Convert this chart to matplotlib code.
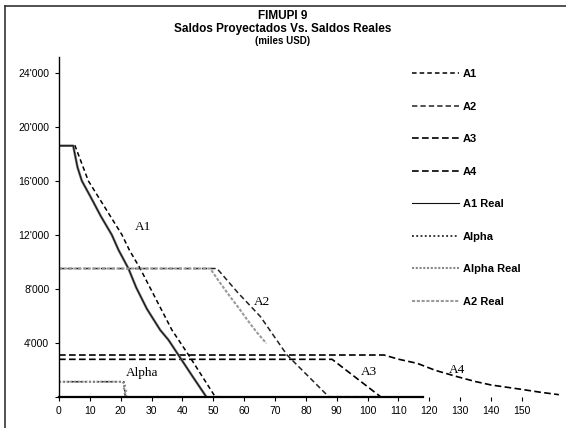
import matplotlib.pyplot as plt
from matplotlib.lines import Line2D
from matplotlib.ticker import FuncFormatter

# --- data (months vs. balance in thousand USD) ---
a1_x = [0, 5.2, 9.5, 20.4, 22.8, 26.3, 36.6, 42, 50.6, 52]
a1_y = [18600, 18600, 16000, 12000, 10870, 9500, 4940, 3090, 0, 0]

a1r_x = [0, 4.6, 6.0, 7.4, 10.5, 13.5, 17.1, 19.3, 22.5, 25.0, 28.5, 32.8, 35.5, 38.7, 43.0, 47.7]
a1r_y = [18600, 18600, 17000, 16000, 14700, 13400, 12000, 10870, 9500, 8100, 6500, 4940, 4200, 3090, 1600, 0]

a2_x = [0, 51.2, 58.0, 65.3, 73.9, 87.4, 104]
a2_y = [9500, 9500, 7700, 5930, 3090, 0, 0]

a2r_x = [0, 49.0, 52.0, 55.5, 58.5, 61.0, 64.0, 67.2]
a2r_y = [9500, 9500, 8500, 7400, 6500, 5700, 4800, 3950]

a3_x = [0, 88.5, 104.2]
a3_y = [2770, 2770, 0]

a4_x = [0, 105.3, 110.0, 116.1, 122.0, 129.1, 135.0, 140.0, 149.7, 156.0, 162.0]
a4_y = [3090, 3090, 2780, 2470, 1950, 1480, 1120, 870, 550, 330, 150]

alpha_x = [0, 21.0, 21.5]
alpha_y = [1110, 1110, 0]

alphar_x = [0, 20.6, 21.4, 20.8, 21.8, 21.0, 22.0, 21.4]
alphar_y = [1110, 1110, 850, 650, 450, 300, 150, 0]

x_ticks = list(range(0, 151, 10))
y_ticks = [0, 4000, 8000, 12000, 16000, 20000, 24000]

curve_labels = ['A1', 'A2', 'A3', 'A4', 'Alpha']
curve_label_x = [27.4, 65.8, 100.4, 129.1, 26.8]
curve_label_y = [12600, 7040, 1850, 1980, 1730]

W, H = 566, 428
fig = plt.figure(figsize=(W / 100, H / 100), dpi=100)
ax = fig.add_axes([59 / W, 1 - 396.7 / H, 503 / W, 340 / H])

ax.plot(a1_x, a1_y, color='black', ls=(0, (3, 2)), lw=1.1, label='A1')
ax.plot(a2_x, a2_y, color='#222222', ls=(0, (3.5, 2)), lw=1.1, label='A2')
ax.plot(a3_x, a3_y, color='black', ls=(0, (4, 2)), lw=1.2, label='A3')
ax.plot(a4_x, a4_y, color='black', ls=(0, (4, 2)), lw=1.2, label='A4')
ax.plot(a1r_x, a1r_y, color='#7a7a7a', lw=1.8, solid_capstyle='butt')
ax.plot(a1r_x, a1r_y, color='#111111', lw=0.8, label='A1 Real')
ax.plot(alpha_x, alpha_y, color='black', ls=(0, (1.2, 1.6)), lw=1.1, label='Alpha')
ax.plot(alphar_x, alphar_y, color='#8a8a8a', ls=(0, (1, 0.8)), lw=1.5, label='Alpha Real')
ax.plot(a2r_x, a2r_y, color='#9a9a9a', ls=(0, (1.5, 0.8)), lw=1.5, label='A2 Real')

for name, lx, ly in zip(curve_labels, curve_label_x, curve_label_y):
    ax.text(lx, ly, name, family='Liberation Serif', fontsize=9.5,
            ha='center', va='center')

ax.set_xlim(0, 163)
ax.set_ylim(0, 25200)
ax.set_xticks(x_ticks)
ax.set_yticks(y_ticks)
ax.yaxis.set_major_formatter(FuncFormatter(
    lambda v, p: '' if v == 0 else f"{int(v):,}".replace(',', "'")))
ax.tick_params(direction='out', length=3, width=0.8, labelsize=7.5, pad=4)
for lab in ax.get_xticklabels() + ax.get_yticklabels():
    lab.set_family('Liberation Sans')

ax.spines['top'].set_visible(False)
ax.spines['right'].set_visible(False)
ax.spines['left'].set_linewidth(1.0)
ax.spines['bottom'].set_linewidth(1.6)
ax.spines['bottom'].set_bounds(0, 118)

leg = ax.legend(loc='upper left', bbox_to_anchor=(402 / W, 1 - 59 / H),
                bbox_transform=fig.transFigure, frameon=False,
                handlelength=4.25, handletextpad=0.3, labelspacing=2.03,
                prop={'family': 'Liberation Sans', 'weight': 'bold', 'size': 8})

fig.text(0.5, 1 - 16 / H, 'FIMUPI 9', ha='center', va='center',
         family='Liberation Sans', weight='bold', fontsize=8.5)
fig.text(0.5, 1 - 29 / H, 'Saldos Proyectados Vs. Saldos Reales', ha='center',
         va='center', family='Liberation Sans', weight='bold', fontsize=8.5)
fig.text(0.5, 1 - 41 / H, '(miles USD)', ha='center', va='center',
         family='Liberation Sans', weight='bold', fontsize=7)

# scanned page frame
fig.add_artist(Line2D([5 / W, 1], [1 - 6 / H, 1 - 6 / H], color='#333333', lw=1.2))
fig.add_artist(Line2D([5 / W, 5 / W], [0, 1 - 6 / H], color='#333333', lw=1.2))

fig.savefig('out.png', dpi=100)
